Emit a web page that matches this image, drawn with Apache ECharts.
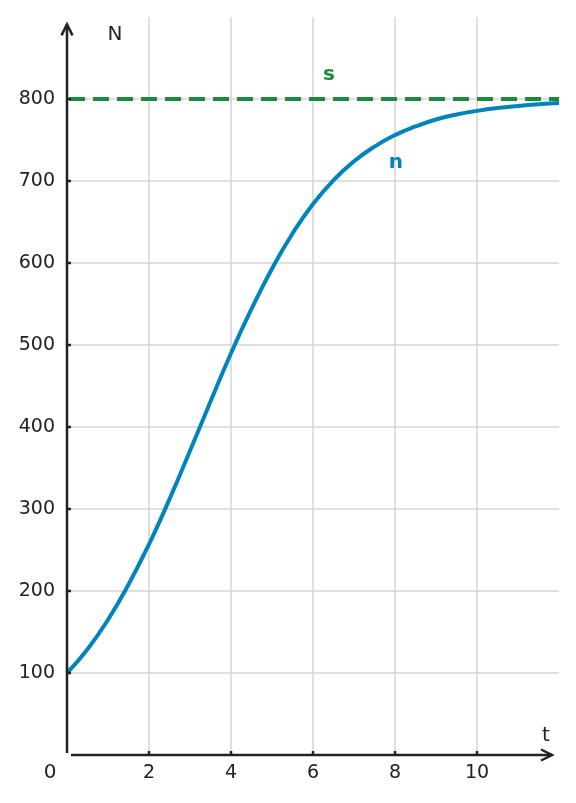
<!DOCTYPE html>
<html>
<head>
<meta charset="utf-8">
<script src="https://cdn.jsdelivr.net/npm/echarts@6/dist/echarts.min.js"></script>
<style>
  html, body { margin: 0; padding: 0; background: #fff; }
  #chart { width: 576px; height: 803px; }
</style>
</head>
<body>
<div id="chart"></div>
<script>
// 时间 t
const tValues = [0, 0.5, 1, 1.5, 2, 2.5, 3, 3.5, 4, 4.5, 5, 5.5, 6, 6.5, 7, 7.5, 8, 8.5, 9, 9.5, 10, 10.5, 11, 11.5, 12]
// 数量 n
const nValues = [100, 129, 165, 208, 257, 312, 371, 431, 490, 544, 593, 636, 672, 701, 724, 742, 756, 766.5, 775, 781, 785.5, 789, 791.5, 793.5, 795]
// 上限 s
const sValue = 800
// 刻度
const xTicks = [2, 4, 6, 8, 10]
const yTicks = [100, 200, 300, 400, 500, 600, 700, 800]

const axisColor = "#222"
const blue = "#0084bb"
const green = "#1a8a3c"
const font = "DejaVu Sans"

const chart = echarts.init(document.getElementById("chart"))

chart.setOption({
  animation: false,
  grid: { left: 67, right: 17, top: 17, bottom: 48 },
  xAxis: {
    type: "value",
    min: 0,
    max: 12,
    interval: 2,
    axisLine: { show: false },
    axisTick: { show: false },
    axisLabel: {
      color: axisColor,
      fontSize: 19,
      fontFamily: font,
      margin: 9,
      formatter: (v) => (xTicks.includes(v) ? String(v) : ""),
    },
    splitLine: {
      show: true,
      showMinLine: false,
      showMaxLine: false,
      lineStyle: { color: "#d4d4d4", width: 1.5 },
    },
  },
  yAxis: {
    type: "value",
    min: 0,
    max: 900,
    interval: 100,
    axisLine: { show: false },
    axisTick: { show: false },
    axisLabel: {
      color: axisColor,
      fontSize: 19,
      fontFamily: font,
      margin: 12,
      formatter: (v) => (yTicks.includes(v) ? String(v) : ""),
    },
    splitLine: {
      show: true,
      showMinLine: false,
      showMaxLine: false,
      lineStyle: { color: "#d4d4d4", width: 1.5 },
    },
  },
  series: [
    {
      name: "s",
      type: "line",
      data: [[0.05, sValue], [12, sValue]],
      showSymbol: false,
      lineStyle: { color: green, width: 4, type: [16, 8] },
      z: 3,
    },
    {
      name: "n",
      type: "line",
      data: tValues.map((t, i) => [t, nValues[i]]),
      smooth: true,
      showSymbol: false,
      lineStyle: { color: blue, width: 4 },
      z: 4,
    },
  ],
})

// 坐标轴、箭头、刻度与文字（通过 convertToPixel 定位）
const px = (p) => chart.convertToPixel({ gridIndex: 0 }, p)
const o = px([0, 0])
const yTop = px([0, 891])
const xEnd = px([11.83, 0])
const lineStyle = { stroke: axisColor, lineWidth: 2.5, fill: null }
const graphics = [
  { type: "polyline", shape: { points: [[o[0], o[1] - 2], [yTop[0], yTop[1]]] }, style: lineStyle, z: 10 },
  { type: "polyline", shape: { points: [[yTop[0] - 5.5, yTop[1] + 11], [yTop[0], yTop[1]], [yTop[0] + 5.5, yTop[1] + 11]] }, style: lineStyle, z: 10 },
  { type: "polyline", shape: { points: [[o[0] + 4, o[1]], [xEnd[0], xEnd[1]]] }, style: lineStyle, z: 10 },
  { type: "polyline", shape: { points: [[xEnd[0] - 11, xEnd[1] - 5.5], [xEnd[0], xEnd[1]], [xEnd[0] - 11, xEnd[1] + 5.5]] }, style: lineStyle, z: 10 },
]
xTicks.forEach((t) => {
  const p = px([t, 0])
  graphics.push({ type: "line", shape: { x1: p[0], y1: p[1], x2: p[0], y2: p[1] - 4 }, style: lineStyle, z: 10 })
})
yTicks.forEach((v) => {
  const p = px([0, v])
  graphics.push({ type: "line", shape: { x1: p[0], y1: p[1], x2: p[0] + 4, y2: p[1] }, style: lineStyle, z: 10 })
})
const addText = (text, at, color, bold) => {
  const p = px(at)
  graphics.push({
    type: "text",
    x: p[0],
    y: p[1],
    z: 11,
    style: {
      text,
      fill: color,
      font: (bold ? "bold " : "") + "20px '" + font + "'",
      align: "center",
      verticalAlign: "middle",
    },
  })
}
addText("N", [1.17, 878], axisColor, false)
addText("t", [11.68, 24], axisColor, false)
addText("0", [-0.41, -22], axisColor, false)
addText("s", [6.39, 830], green, true)
addText("n", [8.02, 722], blue, true)

chart.setOption({ graphic: graphics })
</script>
</body>
</html>
